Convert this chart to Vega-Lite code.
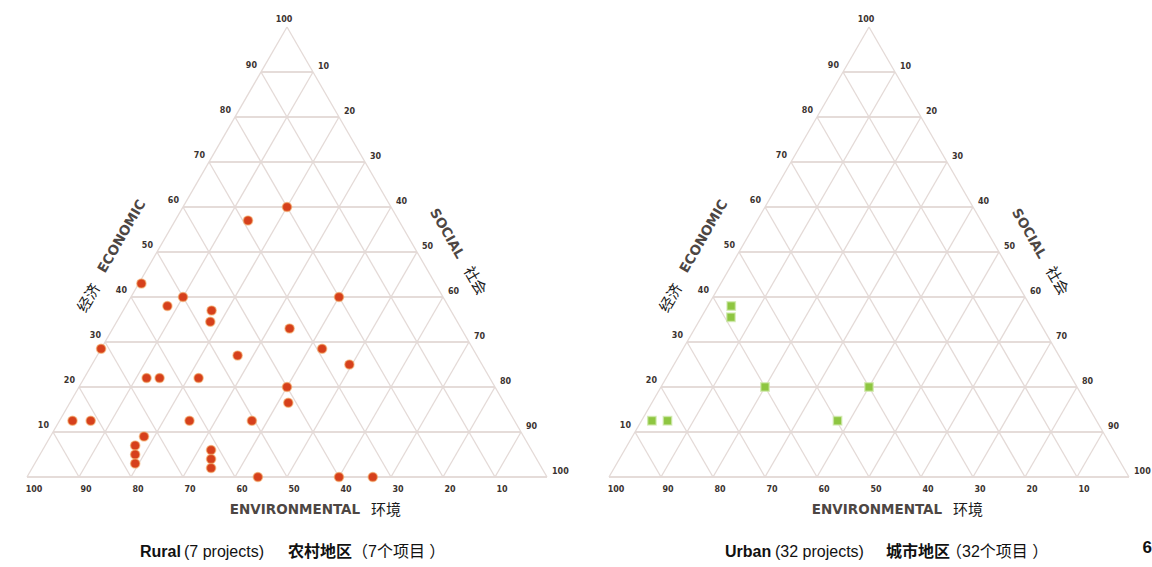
{
  "$schema": "https://vega.github.io/schema/vega-lite/v6.json",
  "padding": 0,
  "spacing": 0,
  "background": "white",
  "config": {"view": {"stroke": null}},
  "datasets": {
    "ticks": [{"t":0},{"t":10},{"t":20},{"t":30},{"t":40},{"t":50},{"t":60},{"t":70},{"t":80},{"t":90},{"t":100}],
    "rural": [
      {"economic":60,"social":20,"environmental":20},
      {"economic":57,"social":14,"environmental":29},
      {"economic":43,"social":0.5,"environmental":56.5},
      {"economic":38,"social":8,"environmental":54},
      {"economic":40,"social":10,"environmental":50},
      {"economic":37,"social":17,"environmental":46},
      {"economic":34.5,"social":18,"environmental":47.5},
      {"economic":40,"social":40,"environmental":20},
      {"economic":33,"social":34,"environmental":33},
      {"economic":28.5,"social":0,"environmental":71.5},
      {"economic":27,"social":27,"environmental":46},
      {"economic":28.5,"social":42.5,"environmental":29},
      {"economic":25,"social":49.5,"environmental":25.5},
      {"economic":22,"social":12,"environmental":66},
      {"economic":22,"social":14.5,"environmental":63.5},
      {"economic":22,"social":22,"environmental":56},
      {"economic":20,"social":40,"environmental":40},
      {"economic":16.5,"social":42,"environmental":41.5},
      {"economic":12.5,"social":2.5,"environmental":85},
      {"economic":12.5,"social":6,"environmental":81.5},
      {"economic":12.5,"social":25,"environmental":62.5},
      {"economic":12.5,"social":37,"environmental":50.5},
      {"economic":9,"social":18,"environmental":73},
      {"economic":7,"social":17.3,"environmental":75.7},
      {"economic":5,"social":18.3,"environmental":76.7},
      {"economic":3,"social":19.3,"environmental":77.7},
      {"economic":6,"social":32.4,"environmental":61.6},
      {"economic":4,"social":33.4,"environmental":62.6},
      {"economic":2,"social":34.4,"environmental":63.6},
      {"economic":0,"social":44.4,"environmental":55.6},
      {"economic":0,"social":60,"environmental":40},
      {"economic":0,"social":66.5,"environmental":33.5}
    ],
    "urban": [
      {"economic":38,"social":4.5,"environmental":57.5},
      {"economic":35.5,"social":5.7,"environmental":58.8},
      {"economic":20,"social":20,"environmental":60},
      {"economic":20,"social":40,"environmental":40},
      {"economic":12.5,"social":2,"environmental":85.5},
      {"economic":12.5,"social":5,"environmental":82.5},
      {"economic":12.5,"social":37.7,"environmental":49.8}
    ]
  },
  "hconcat": [
    {
      "width": 576,
      "height": 567,
      "encoding": {
        "x": {"field": "x", "type": "quantitative", "scale": {"domain": [-5.1923, 105.5769], "nice": false, "zero": false}, "axis": null},
        "y": {"field": "y", "type": "quantitative", "scale": {"domain": [-20, 106], "nice": false, "zero": false}, "axis": null}
      },
      "layer": [
        {"data": {"name": "ticks"}, "transform": [{"filter": "datum.t < 100"}, {"calculate": "datum.t/2", "as": "x"}, {"calculate": "100-datum.t/2", "as": "x2"}, {"calculate": "datum.t", "as": "y"}],
         "mark": {"type": "rule", "stroke": "#ddd0cc", "strokeWidth": 1.6}, "encoding": {"x2": {"field": "x2"}}},
        {"data": {"name": "ticks"}, "transform": [{"filter": "datum.t < 100"}, {"calculate": "datum.t", "as": "x"}, {"calculate": "0", "as": "y"}, {"calculate": "50+datum.t/2", "as": "x2"}, {"calculate": "100-datum.t", "as": "y2"}],
         "mark": {"type": "rule", "stroke": "#e4dad7", "strokeWidth": 1.3}, "encoding": {"x2": {"field": "x2"}, "y2": {"field": "y2"}}},
        {"data": {"name": "ticks"}, "transform": [{"filter": "datum.t < 100"}, {"calculate": "100-datum.t", "as": "x"}, {"calculate": "0", "as": "y"}, {"calculate": "(100-datum.t)/2", "as": "x2"}, {"calculate": "100-datum.t", "as": "y2"}],
         "mark": {"type": "rule", "stroke": "#e4dad7", "strokeWidth": 1.3}, "encoding": {"x2": {"field": "x2"}, "y2": {"field": "y2"}}},
        {"data": {"name": "ticks"}, "transform": [{"filter": "datum.t > 0 && datum.t < 100"}, {"calculate": "datum.t/2", "as": "x"}, {"calculate": "datum.t", "as": "y"}, {"calculate": "''+datum.t", "as": "lbl"}],
         "mark": {"type": "text", "font": "DejaVu Sans", "fontWeight": "bold", "fontSize": 8, "fill": "#3b3330", "align": "right", "baseline": "middle", "dx": -4, "dy": -6}, "encoding": {"text": {"field": "lbl"}}},
        {"data": {"name": "ticks"}, "transform": [{"filter": "datum.t < 100"}, {"calculate": "100-datum.t/2", "as": "x"}, {"calculate": "datum.t", "as": "y"}, {"calculate": "''+(100-datum.t)", "as": "lbl"}],
         "mark": {"type": "text", "font": "DejaVu Sans", "fontWeight": "bold", "fontSize": 8, "fill": "#3b3330", "align": "left", "baseline": "middle", "dx": 5, "dy": -5}, "encoding": {"text": {"field": "lbl"}}},
        {"data": {"name": "ticks"}, "transform": [{"filter": "datum.t < 100"}, {"calculate": "datum.t", "as": "x"}, {"calculate": "0", "as": "y"}, {"calculate": "''+(100-datum.t)", "as": "lbl"}],
         "mark": {"type": "text", "font": "DejaVu Sans", "fontWeight": "bold", "fontSize": 8, "fill": "#3b3330", "align": "center", "baseline": "middle", "dx": 7, "dy": 13}, "encoding": {"text": {"field": "lbl"}}},
        {"data": {"name": "ticks"}, "transform": [{"filter": "datum.t == 100"}, {"calculate": "datum.t/2", "as": "x"}, {"calculate": "datum.t", "as": "y"}, {"calculate": "''+datum.t", "as": "lbl"}],
         "mark": {"type": "text", "font": "DejaVu Sans", "fontWeight": "bold", "fontSize": 8, "fill": "#3b3330", "align": "center", "baseline": "middle", "dx": -3, "dy": -7}, "encoding": {"text": {"field": "lbl"}}},
        {"data": {"name": "rural"}, "transform": [{"calculate": "datum.social + datum.economic/2", "as": "x"}, {"calculate": "datum.economic", "as": "y"}],
         "mark": {"type": "circle", "size": 85, "fill": "#d6401c", "opacity": 1, "stroke": "#f2a45c", "strokeWidth": 1.5, "strokeOpacity": 0.55}},
        {"data": {"name": "ticks"}, "transform": [{"filter": "datum.t == 50"}, {"calculate": "datum.t/2", "as": "x"}, {"calculate": "datum.t", "as": "y"}],
         "layer": [
           {"mark": {"type": "text", "text": "ECONOMIC", "font": "DejaVu Sans", "fontWeight": "bold", "fontSize": 13.5, "fill": "#4d4643", "angle": -60, "align": "center", "baseline": "middle", "dx": -4, "dy": -38}},
           {"mark": {"type": "text", "text": "经济", "font": "Noto Sans CJK SC", "fontSize": 15, "fill": "#1a1a1a", "angle": -60, "align": "center", "baseline": "middle", "dx": -74, "dy": -36}}
         ]},
        {"data": {"name": "ticks"}, "transform": [{"filter": "datum.t == 50"}, {"calculate": "100-datum.t/2", "as": "x"}, {"calculate": "datum.t", "as": "y"}],
         "layer": [
           {"mark": {"type": "text", "text": "SOCIAL", "font": "DejaVu Sans", "fontWeight": "bold", "fontSize": 13.5, "fill": "#4d4643", "angle": 60, "align": "center", "baseline": "middle", "dx": -1, "dy": -35}},
           {"mark": {"type": "text", "text": "社会", "font": "Noto Sans CJK SC", "fontSize": 15, "fill": "#1a1a1a", "angle": 60, "align": "center", "baseline": "middle", "dx": 54, "dy": -36}}
         ]},
        {"data": {"name": "ticks"}, "transform": [{"filter": "datum.t == 50"}, {"calculate": "datum.t", "as": "x"}, {"calculate": "0", "as": "y"}],
         "layer": [
           {"mark": {"type": "text", "text": "ENVIRONMENTAL", "font": "DejaVu Sans", "fontWeight": "bold", "fontSize": 13.5, "fill": "#4d4643", "align": "center", "baseline": "middle", "dx": 8, "dy": 33}},
           {"mark": {"type": "text", "text": "环境", "font": "Noto Sans CJK SC", "fontSize": 15, "fill": "#1a1a1a", "align": "center", "baseline": "middle", "dx": 99, "dy": 33}},
           {"mark": {"type": "text", "text": "Rural", "font": "Liberation Sans", "fontWeight": "bold", "fontSize": 16, "fill": "#111111", "align": "left", "baseline": "middle", "dx": -147, "dy": 75}},
           {"mark": {"type": "text", "text": "(7 projects)", "font": "Liberation Sans", "fontSize": 16, "fill": "#111111", "align": "left", "baseline": "middle", "dx": -103, "dy": 75}},
           {"mark": {"type": "text", "text": "农村地区", "font": "Noto Sans CJK SC", "fontWeight": "bold", "fontSize": 16, "fill": "#111111", "align": "left", "baseline": "middle", "dx": 1, "dy": 75}},
           {"mark": {"type": "text", "text": "（7个项目 ）", "font": "Liberation Sans, Noto Sans CJK SC", "fontSize": 16, "fill": "#111111", "align": "left", "baseline": "middle", "dx": 65, "dy": 75}}
         ]}
      ]
    },
    {
      "width": 576,
      "height": 567,
      "encoding": {
        "x": {"field": "x", "type": "quantitative", "scale": {"domain": [-6.3462, 104.4231], "nice": false, "zero": false}, "axis": null},
        "y": {"field": "y", "type": "quantitative", "scale": {"domain": [-20, 106], "nice": false, "zero": false}, "axis": null}
      },
      "layer": [
        {"data": {"name": "ticks"}, "transform": [{"filter": "datum.t < 100"}, {"calculate": "datum.t/2", "as": "x"}, {"calculate": "100-datum.t/2", "as": "x2"}, {"calculate": "datum.t", "as": "y"}],
         "mark": {"type": "rule", "stroke": "#ddd0cc", "strokeWidth": 1.6}, "encoding": {"x2": {"field": "x2"}}},
        {"data": {"name": "ticks"}, "transform": [{"filter": "datum.t < 100"}, {"calculate": "datum.t", "as": "x"}, {"calculate": "0", "as": "y"}, {"calculate": "50+datum.t/2", "as": "x2"}, {"calculate": "100-datum.t", "as": "y2"}],
         "mark": {"type": "rule", "stroke": "#e4dad7", "strokeWidth": 1.3}, "encoding": {"x2": {"field": "x2"}, "y2": {"field": "y2"}}},
        {"data": {"name": "ticks"}, "transform": [{"filter": "datum.t < 100"}, {"calculate": "100-datum.t", "as": "x"}, {"calculate": "0", "as": "y"}, {"calculate": "(100-datum.t)/2", "as": "x2"}, {"calculate": "100-datum.t", "as": "y2"}],
         "mark": {"type": "rule", "stroke": "#e4dad7", "strokeWidth": 1.3}, "encoding": {"x2": {"field": "x2"}, "y2": {"field": "y2"}}},
        {"data": {"name": "ticks"}, "transform": [{"filter": "datum.t > 0 && datum.t < 100"}, {"calculate": "datum.t/2", "as": "x"}, {"calculate": "datum.t", "as": "y"}, {"calculate": "''+datum.t", "as": "lbl"}],
         "mark": {"type": "text", "font": "DejaVu Sans", "fontWeight": "bold", "fontSize": 8, "fill": "#3b3330", "align": "right", "baseline": "middle", "dx": -4, "dy": -6}, "encoding": {"text": {"field": "lbl"}}},
        {"data": {"name": "ticks"}, "transform": [{"filter": "datum.t < 100"}, {"calculate": "100-datum.t/2", "as": "x"}, {"calculate": "datum.t", "as": "y"}, {"calculate": "''+(100-datum.t)", "as": "lbl"}],
         "mark": {"type": "text", "font": "DejaVu Sans", "fontWeight": "bold", "fontSize": 8, "fill": "#3b3330", "align": "left", "baseline": "middle", "dx": 5, "dy": -5}, "encoding": {"text": {"field": "lbl"}}},
        {"data": {"name": "ticks"}, "transform": [{"filter": "datum.t < 100"}, {"calculate": "datum.t", "as": "x"}, {"calculate": "0", "as": "y"}, {"calculate": "''+(100-datum.t)", "as": "lbl"}],
         "mark": {"type": "text", "font": "DejaVu Sans", "fontWeight": "bold", "fontSize": 8, "fill": "#3b3330", "align": "center", "baseline": "middle", "dx": 7, "dy": 13}, "encoding": {"text": {"field": "lbl"}}},
        {"data": {"name": "ticks"}, "transform": [{"filter": "datum.t == 100"}, {"calculate": "datum.t/2", "as": "x"}, {"calculate": "datum.t", "as": "y"}, {"calculate": "''+datum.t", "as": "lbl"}],
         "mark": {"type": "text", "font": "DejaVu Sans", "fontWeight": "bold", "fontSize": 8, "fill": "#3b3330", "align": "center", "baseline": "middle", "dx": -3, "dy": -7}, "encoding": {"text": {"field": "lbl"}}},
        {"data": {"name": "urban"}, "transform": [{"calculate": "datum.social + datum.economic/2", "as": "x"}, {"calculate": "datum.economic", "as": "y"}],
         "mark": {"type": "square", "size": 70, "fill": "#8ec641", "opacity": 1, "stroke": "#cde8a8", "strokeWidth": 1.5, "strokeOpacity": 0.7}},
        {"data": {"name": "ticks"}, "transform": [{"filter": "datum.t == 50"}, {"calculate": "datum.t/2", "as": "x"}, {"calculate": "datum.t", "as": "y"}],
         "layer": [
           {"mark": {"type": "text", "text": "ECONOMIC", "font": "DejaVu Sans", "fontWeight": "bold", "fontSize": 13.5, "fill": "#4d4643", "angle": -60, "align": "center", "baseline": "middle", "dx": -4, "dy": -38}},
           {"mark": {"type": "text", "text": "经济", "font": "Noto Sans CJK SC", "fontSize": 15, "fill": "#1a1a1a", "angle": -60, "align": "center", "baseline": "middle", "dx": -74, "dy": -36}}
         ]},
        {"data": {"name": "ticks"}, "transform": [{"filter": "datum.t == 50"}, {"calculate": "100-datum.t/2", "as": "x"}, {"calculate": "datum.t", "as": "y"}],
         "layer": [
           {"mark": {"type": "text", "text": "SOCIAL", "font": "DejaVu Sans", "fontWeight": "bold", "fontSize": 13.5, "fill": "#4d4643", "angle": 60, "align": "center", "baseline": "middle", "dx": -1, "dy": -35}},
           {"mark": {"type": "text", "text": "社会", "font": "Noto Sans CJK SC", "fontSize": 15, "fill": "#1a1a1a", "angle": 60, "align": "center", "baseline": "middle", "dx": 54, "dy": -36}}
         ]},
        {"data": {"name": "ticks"}, "transform": [{"filter": "datum.t == 50"}, {"calculate": "datum.t", "as": "x"}, {"calculate": "0", "as": "y"}],
         "layer": [
           {"mark": {"type": "text", "text": "ENVIRONMENTAL", "font": "DejaVu Sans", "fontWeight": "bold", "fontSize": 13.5, "fill": "#4d4643", "align": "center", "baseline": "middle", "dx": 8, "dy": 33}},
           {"mark": {"type": "text", "text": "环境", "font": "Noto Sans CJK SC", "fontSize": 15, "fill": "#1a1a1a", "align": "center", "baseline": "middle", "dx": 99, "dy": 33}},
           {"mark": {"type": "text", "text": "Urban", "font": "Liberation Sans", "fontWeight": "bold", "fontSize": 16, "fill": "#111111", "align": "left", "baseline": "middle", "dx": -144, "dy": 75}},
           {"mark": {"type": "text", "text": "(32 projects)", "font": "Liberation Sans", "fontSize": 16, "fill": "#111111", "align": "left", "baseline": "middle", "dx": -94, "dy": 75}},
           {"mark": {"type": "text", "text": "城市地区", "font": "Noto Sans CJK SC", "fontWeight": "bold", "fontSize": 16, "fill": "#111111", "align": "left", "baseline": "middle", "dx": 17, "dy": 75}},
           {"mark": {"type": "text", "text": "（32个项目 ）", "font": "Liberation Sans, Noto Sans CJK SC", "fontSize": 16, "fill": "#111111", "align": "left", "baseline": "middle", "dx": 77, "dy": 75}}
         ]},
        {"data": {"name": "ticks"}, "transform": [{"filter": "datum.t == 100"}, {"calculate": "datum.t", "as": "x"}, {"calculate": "0", "as": "y"}],
         "mark": {"type": "text", "text": "6", "font": "Liberation Sans", "fontWeight": "bold", "fontSize": 17, "fill": "#111111", "align": "right", "baseline": "middle", "dx": 23, "dy": 71}}
      ]
    }
  ]
}
